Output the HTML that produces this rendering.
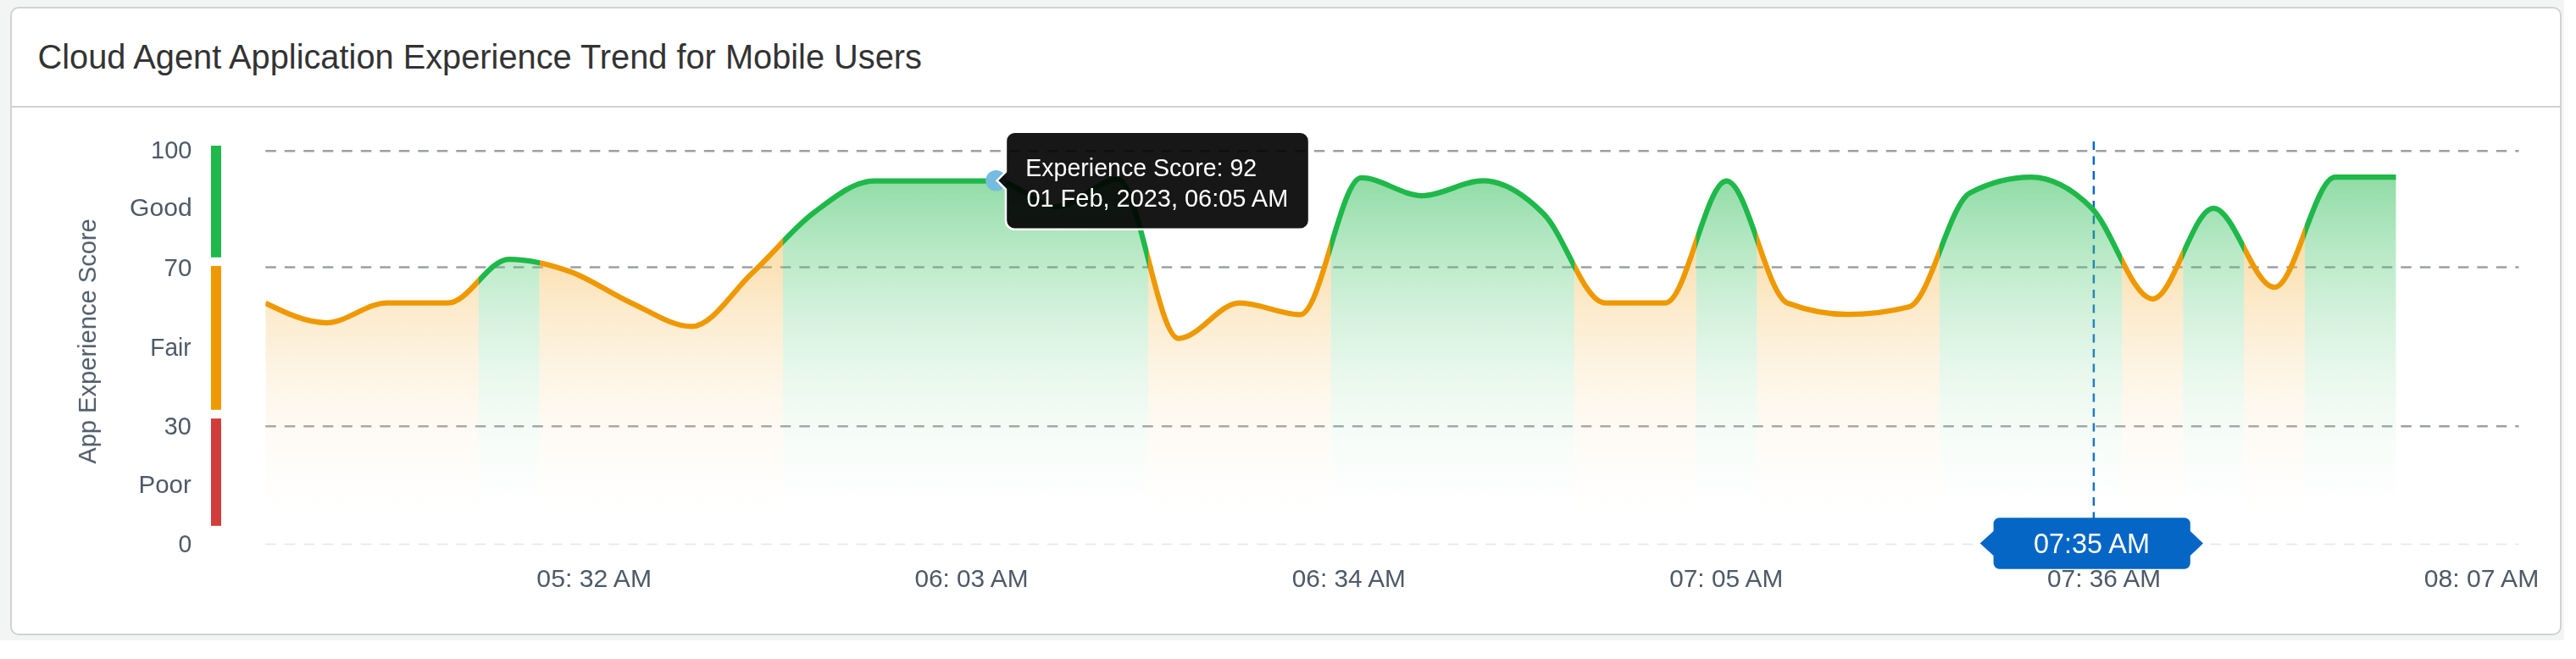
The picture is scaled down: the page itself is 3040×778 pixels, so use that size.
<!DOCTYPE html>
<html><head><meta charset="utf-8"><title>Cloud Agent Application Experience Trend</title>
<style>html,body{margin:0;padding:0;width:3040px;height:778px;overflow:hidden;background:#ffffff}</style>
</head><body>
<svg width="3040" height="778" viewBox="0 0 3040 778" style="position:absolute;left:0;top:0" font-family="'Liberation Sans', Arial, sans-serif">
<defs><linearGradient id="lg" gradientUnits="userSpaceOnUse" x1="313.30" y1="0" x2="2827.70" y2="0"><stop offset="0.00000" stop-color="#ef9902"/><stop offset="0.10000" stop-color="#ef9902"/><stop offset="0.10000" stop-color="#1fb84a"/><stop offset="0.12857" stop-color="#1fb84a"/><stop offset="0.12857" stop-color="#ef9902"/><stop offset="0.24286" stop-color="#ef9902"/><stop offset="0.24286" stop-color="#1fb84a"/><stop offset="0.41429" stop-color="#1fb84a"/><stop offset="0.41429" stop-color="#ef9902"/><stop offset="0.50000" stop-color="#ef9902"/><stop offset="0.50000" stop-color="#1fb84a"/><stop offset="0.61429" stop-color="#1fb84a"/><stop offset="0.61429" stop-color="#ef9902"/><stop offset="0.67143" stop-color="#ef9902"/><stop offset="0.67143" stop-color="#1fb84a"/><stop offset="0.70000" stop-color="#1fb84a"/><stop offset="0.70000" stop-color="#ef9902"/><stop offset="0.78571" stop-color="#ef9902"/><stop offset="0.78571" stop-color="#1fb84a"/><stop offset="0.87143" stop-color="#1fb84a"/><stop offset="0.87143" stop-color="#ef9902"/><stop offset="0.90000" stop-color="#ef9902"/><stop offset="0.90000" stop-color="#1fb84a"/><stop offset="0.92857" stop-color="#1fb84a"/><stop offset="0.92857" stop-color="#ef9902"/><stop offset="0.95714" stop-color="#ef9902"/><stop offset="0.95714" stop-color="#1fb84a"/><stop offset="1.00000" stop-color="#1fb84a"/></linearGradient><linearGradient id="gg" gradientUnits="userSpaceOnUse" x1="0" y1="209" x2="0" y2="636"><stop offset="0" stop-color="#1fb84a" stop-opacity="0.500"/><stop offset="1" stop-color="#ffffff" stop-opacity="0"/></linearGradient>
<linearGradient id="og" gradientUnits="userSpaceOnUse" x1="0" y1="209" x2="0" y2="636"><stop offset="0" stop-color="#ef9902" stop-opacity="0.500"/><stop offset="1" stop-color="#ffffff" stop-opacity="0"/></linearGradient>
<clipPath id="cg"><rect x="564.74" y="150" width="71.84" height="500"/><rect x="923.94" y="150" width="431.04" height="500"/><rect x="1570.50" y="150" width="287.36" height="500"/><rect x="2001.54" y="150" width="71.84" height="500"/><rect x="2288.90" y="150" width="215.52" height="500"/><rect x="2576.26" y="150" width="71.84" height="500"/><rect x="2719.94" y="150" width="107.76" height="500"/></clipPath>
<clipPath id="co"><rect x="313.30" y="150" width="251.44" height="500"/><rect x="636.58" y="150" width="287.36" height="500"/><rect x="1354.98" y="150" width="215.52" height="500"/><rect x="1857.86" y="150" width="143.68" height="500"/><rect x="2073.38" y="150" width="215.52" height="500"/><rect x="2504.42" y="150" width="71.84" height="500"/><rect x="2648.10" y="150" width="71.84" height="500"/></clipPath>
<clipPath id="cl"><rect x="313.3" y="0" width="2514.4" height="778"/></clipPath></defs>
<rect x="0" y="0" width="3040" height="778" fill="#ffffff"/>
<rect x="0" y="0" width="3026" height="756" fill="#f3f5f4"/>
<rect x="13" y="9" width="3009" height="740" rx="9" fill="#fff" stroke="#d2d2d2" stroke-width="2"/>
<line x1="14" y1="126" x2="3021" y2="126" stroke="#d2d2d2" stroke-width="2"/>
<text id="title" x="44.50" y="80.70" font-size="40.00" textLength="1043.46" lengthAdjust="spacingAndGlyphs" fill="#333">Cloud Agent Application Experience Trend for Mobile Users</text>
<g fill="#4d5a67" opacity="0.999"><text id="y100" x="226.40" y="186.80" font-size="29.50" text-anchor="end" textLength="48.38" lengthAdjust="spacingAndGlyphs">100</text><text id="yGood" x="226.70" y="254.70" font-size="29.50" text-anchor="end" textLength="73.66" lengthAdjust="spacingAndGlyphs">Good</text><text id="y70" x="226.40" y="326.40" font-size="29.50" text-anchor="end" textLength="32.83" lengthAdjust="spacingAndGlyphs">70</text><text id="yFair" x="225.60" y="419.80" font-size="29.50" text-anchor="end" textLength="48.25" lengthAdjust="spacingAndGlyphs">Fair</text><text id="y30" x="225.80" y="512.80" font-size="29.50" text-anchor="end" textLength="32.00" lengthAdjust="spacingAndGlyphs">30</text><text id="yPoor" x="225.80" y="581.90" font-size="29.50" text-anchor="end" textLength="62.33" lengthAdjust="spacingAndGlyphs">Poor</text><text id="y0" x="226.30" y="651.60" font-size="29.50" text-anchor="end" textLength="15.75" lengthAdjust="spacingAndGlyphs">0</text><text id="x0532" x="701.24" y="692.90" font-size="29.80" text-anchor="middle" textLength="135.70" lengthAdjust="spacingAndGlyphs">05: 32 AM</text><text id="x0603" x="1146.44" y="692.90" font-size="29.80" text-anchor="middle" textLength="134.08" lengthAdjust="spacingAndGlyphs">06: 03 AM</text><text id="x0634" x="1591.85" y="692.90" font-size="29.80" text-anchor="middle" textLength="134.08" lengthAdjust="spacingAndGlyphs">06: 34 AM</text><text id="x0705" x="2037.26" y="692.90" font-size="29.80" text-anchor="middle" textLength="134.08" lengthAdjust="spacingAndGlyphs">07: 05 AM</text><text id="x0736" x="2483.07" y="692.90" font-size="29.80" text-anchor="middle" textLength="134.05" lengthAdjust="spacingAndGlyphs">07: 36 AM</text><text id="x0807" x="2928.48" y="692.90" font-size="29.80" text-anchor="middle" textLength="135.70" lengthAdjust="spacingAndGlyphs">08: 07 AM</text>
<text id="rot" transform="translate(113.10,402.90) rotate(-90)" text-anchor="middle" font-size="30.00" textLength="289.44" lengthAdjust="spacingAndGlyphs">App Experience Score</text>
</g>
<rect x="249" y="172" width="12" height="131.8" fill="#1fb84a"/>
<rect x="249" y="314" width="12" height="169.8" fill="#ef9902"/>
<rect x="249" y="494.1" width="12" height="126.7" fill="#d23c3c"/>
<line x1="313.30" y1="178.20" x2="2972.50" y2="178.20" stroke="#9aa0a6" stroke-width="2.50" stroke-dasharray="12.5 10"/><line x1="313.30" y1="315.60" x2="2972.50" y2="315.60" stroke="#9aa0a6" stroke-width="2.50" stroke-dasharray="12.5 10"/><line x1="313.30" y1="503.20" x2="2972.50" y2="503.20" stroke="#9aa0a6" stroke-width="2.50" stroke-dasharray="12.5 10"/><line x1="313.30" y1="642.40" x2="2972.50" y2="642.40" stroke="#e3e6e8" stroke-width="1.50" stroke-dasharray="12.5 10"/>
<line x1="2470.9" y1="167" x2="2470.9" y2="612" stroke="#0066cc" stroke-width="2.5" stroke-dasharray="10 7.5"/>
<path d="M313.30,357.80C337.25,369.40,361.19,381.00,385.14,381.00C409.09,381.00,433.03,357.50,456.98,357.50C480.93,357.50,504.87,357.50,528.82,357.50C552.77,357.50,576.71,306.00,600.66,306.00C624.61,306.00,648.55,311.95,672.50,320.50C696.45,329.05,720.39,346.48,744.34,357.30C768.29,368.12,792.23,385.40,816.18,385.40C840.13,385.40,864.07,344.32,888.02,322.00C911.97,299.68,935.91,269.58,959.86,251.50C983.81,233.42,1007.75,213.50,1031.70,213.50C1055.65,213.50,1079.59,213.50,1103.54,213.50C1127.49,213.50,1151.43,213.50,1175.38,213.50C1199.33,213.50,1223.27,244.00,1247.22,244.00C1271.17,244.00,1295.11,211.60,1319.06,211.60C1343.01,211.60,1366.95,399.50,1390.90,399.50C1414.85,399.50,1438.79,357.70,1462.74,357.70C1486.69,357.70,1510.63,371.40,1534.58,371.40C1558.53,371.40,1582.47,210.00,1606.42,210.00C1630.37,210.00,1654.31,231.00,1678.26,231.00C1702.21,231.00,1726.15,213.40,1750.10,213.40C1774.05,213.40,1797.99,228.78,1821.94,252.80C1845.89,276.82,1869.83,357.50,1893.78,357.50C1917.73,357.50,1941.67,357.50,1965.62,357.50C1989.57,357.50,2013.51,213.70,2037.46,213.70C2061.41,213.70,2085.35,348.70,2109.30,357.70C2133.25,366.70,2157.19,371.20,2181.14,371.20C2205.09,371.20,2229.03,368.20,2252.98,362.20C2276.93,356.20,2300.87,240.03,2324.82,227.70C2348.77,215.37,2372.71,209.20,2396.66,209.20C2420.61,209.20,2444.55,221.87,2468.50,245.80C2492.45,269.73,2516.39,352.80,2540.34,352.80C2564.29,352.80,2588.23,245.80,2612.18,245.80C2636.13,245.80,2660.07,339.10,2684.02,339.10C2707.97,339.10,2731.91,209.20,2755.86,209.20C2779.81,209.20,2803.75,209.20,2827.70,209.20L2827.70,636.00L313.30,636.00Z" fill="url(#gg)" clip-path="url(#cg)"/>
<path d="M313.30,357.80C337.25,369.40,361.19,381.00,385.14,381.00C409.09,381.00,433.03,357.50,456.98,357.50C480.93,357.50,504.87,357.50,528.82,357.50C552.77,357.50,576.71,306.00,600.66,306.00C624.61,306.00,648.55,311.95,672.50,320.50C696.45,329.05,720.39,346.48,744.34,357.30C768.29,368.12,792.23,385.40,816.18,385.40C840.13,385.40,864.07,344.32,888.02,322.00C911.97,299.68,935.91,269.58,959.86,251.50C983.81,233.42,1007.75,213.50,1031.70,213.50C1055.65,213.50,1079.59,213.50,1103.54,213.50C1127.49,213.50,1151.43,213.50,1175.38,213.50C1199.33,213.50,1223.27,244.00,1247.22,244.00C1271.17,244.00,1295.11,211.60,1319.06,211.60C1343.01,211.60,1366.95,399.50,1390.90,399.50C1414.85,399.50,1438.79,357.70,1462.74,357.70C1486.69,357.70,1510.63,371.40,1534.58,371.40C1558.53,371.40,1582.47,210.00,1606.42,210.00C1630.37,210.00,1654.31,231.00,1678.26,231.00C1702.21,231.00,1726.15,213.40,1750.10,213.40C1774.05,213.40,1797.99,228.78,1821.94,252.80C1845.89,276.82,1869.83,357.50,1893.78,357.50C1917.73,357.50,1941.67,357.50,1965.62,357.50C1989.57,357.50,2013.51,213.70,2037.46,213.70C2061.41,213.70,2085.35,348.70,2109.30,357.70C2133.25,366.70,2157.19,371.20,2181.14,371.20C2205.09,371.20,2229.03,368.20,2252.98,362.20C2276.93,356.20,2300.87,240.03,2324.82,227.70C2348.77,215.37,2372.71,209.20,2396.66,209.20C2420.61,209.20,2444.55,221.87,2468.50,245.80C2492.45,269.73,2516.39,352.80,2540.34,352.80C2564.29,352.80,2588.23,245.80,2612.18,245.80C2636.13,245.80,2660.07,339.10,2684.02,339.10C2707.97,339.10,2731.91,209.20,2755.86,209.20C2779.81,209.20,2803.75,209.20,2827.70,209.20L2827.70,636.00L313.30,636.00Z" fill="url(#og)" clip-path="url(#co)"/>
<path d="M313.30,357.80C337.25,369.40,361.19,381.00,385.14,381.00C409.09,381.00,433.03,357.50,456.98,357.50C480.93,357.50,504.87,357.50,528.82,357.50C552.77,357.50,576.71,306.00,600.66,306.00C624.61,306.00,648.55,311.95,672.50,320.50C696.45,329.05,720.39,346.48,744.34,357.30C768.29,368.12,792.23,385.40,816.18,385.40C840.13,385.40,864.07,344.32,888.02,322.00C911.97,299.68,935.91,269.58,959.86,251.50C983.81,233.42,1007.75,213.50,1031.70,213.50C1055.65,213.50,1079.59,213.50,1103.54,213.50C1127.49,213.50,1151.43,213.50,1175.38,213.50C1199.33,213.50,1223.27,244.00,1247.22,244.00C1271.17,244.00,1295.11,211.60,1319.06,211.60C1343.01,211.60,1366.95,399.50,1390.90,399.50C1414.85,399.50,1438.79,357.70,1462.74,357.70C1486.69,357.70,1510.63,371.40,1534.58,371.40C1558.53,371.40,1582.47,210.00,1606.42,210.00C1630.37,210.00,1654.31,231.00,1678.26,231.00C1702.21,231.00,1726.15,213.40,1750.10,213.40C1774.05,213.40,1797.99,228.78,1821.94,252.80C1845.89,276.82,1869.83,357.50,1893.78,357.50C1917.73,357.50,1941.67,357.50,1965.62,357.50C1989.57,357.50,2013.51,213.70,2037.46,213.70C2061.41,213.70,2085.35,348.70,2109.30,357.70C2133.25,366.70,2157.19,371.20,2181.14,371.20C2205.09,371.20,2229.03,368.20,2252.98,362.20C2276.93,356.20,2300.87,240.03,2324.82,227.70C2348.77,215.37,2372.71,209.20,2396.66,209.20C2420.61,209.20,2444.55,221.87,2468.50,245.80C2492.45,269.73,2516.39,352.80,2540.34,352.80C2564.29,352.80,2588.23,245.80,2612.18,245.80C2636.13,245.80,2660.07,339.10,2684.02,339.10C2707.97,339.10,2731.91,209.20,2755.86,209.20C2779.81,209.20,2803.75,209.20,2827.70,209.20" fill="none" stroke="url(#lg)" stroke-width="6.25" clip-path="url(#cl)"/>
<path d="M2359.60,611.20 H2577.80 A7.00,7.00 0 0 1 2584.80,618.20 V626.90 L2600.00,641.50 L2584.80,656.10 V664.80 A7.00,7.00 0 0 1 2577.80,671.80 H2359.60 A7.00,7.00 0 0 1 2352.60,664.80 V656.10 L2336.70,641.50 L2352.60,626.90 V618.20 A7.00,7.00 0 0 1 2359.60,611.20 Z" fill="#0566c6"/><g opacity="0.999"><text id="badge" x="2468.50" y="652.60" font-size="34.00" text-anchor="middle" textLength="137.10" lengthAdjust="spacingAndGlyphs" fill="#fff">07:35 AM</text></g>
<circle cx="1175.5" cy="213.3" r="12.3" fill="#76bbe0"/>
<path d="M1197.45,155.85 H1534.55 A10.50,10.50 0 0 1 1545.05,166.35 V260.25 A10.50,10.50 0 0 1 1534.55,270.75 H1197.45 A10.50,10.50 0 0 1 1186.95,260.25 V223.55 L1176.60,213.20 L1186.95,202.85 V166.35 A10.50,10.50 0 0 1 1197.45,155.85 Z" fill="rgba(0,0,0,0.91)" stroke="#fff" stroke-width="2.5" stroke-linejoin="miter"/>
<g fill="#fff" opacity="0.999"><text id="tt1" x="1210.20" y="207.60" font-size="30.00" textLength="273.07" lengthAdjust="spacingAndGlyphs">Experience Score: 92</text><text id="tt2" x="1211.40" y="244.00" font-size="30.00" textLength="308.88" lengthAdjust="spacingAndGlyphs">01 Feb, 2023, 06:05 AM</text></g>
</svg>
</body></html>
